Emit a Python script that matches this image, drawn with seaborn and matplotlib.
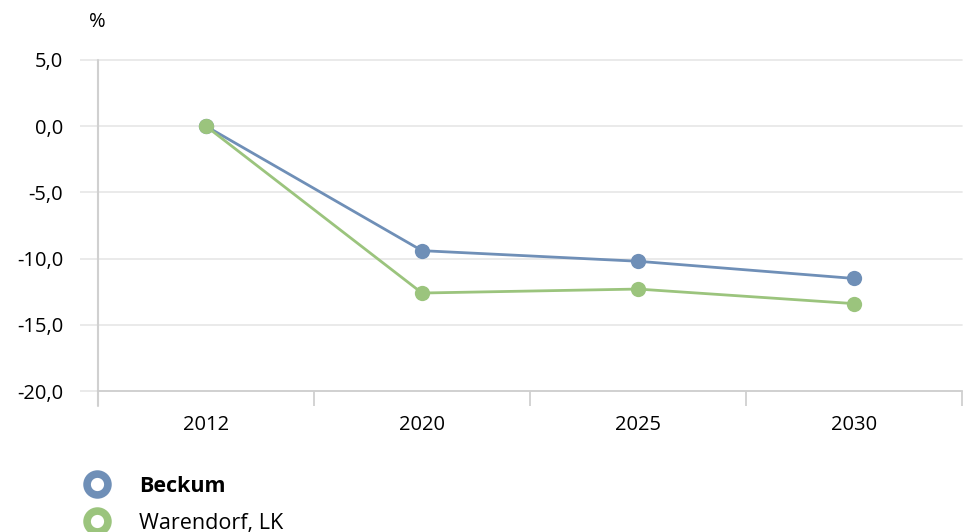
import matplotlib
matplotlib.use("Agg")
import matplotlib.pyplot as plt
from matplotlib.lines import Line2D
from matplotlib.ticker import FuncFormatter, FixedLocator
import seaborn as sb
import pandas as pd

years = ["2012", "2020", "2025", "2030"]
beckum = [0.0, -9.4, -10.2, -11.5]
warendorf = [0.0, -12.6, -12.3, -13.4]
names = ["Beckum", "Warendorf, LK"]
colors = ["#6f8fb7", "#9bc47d"]

df = pd.DataFrame({
    "pos": list(range(len(years))) * 2,
    "wert": beckum + warendorf,
    "region": [names[0]] * len(years) + [names[1]] * len(years),
})

sb.set_style("white")
plt.rcParams["font.family"] = ["Open Sans", "DejaVu Sans"]
plt.rcParams["text.color"] = "black"

fig = plt.figure(figsize=(9.66, 5.32), dpi=100)
ax = fig.add_axes([98 / 966, 1 - 391 / 532, 864 / 966, 331 / 532])

sb.lineplot(data=df, x="pos", y="wert", hue="region", palette=colors,
            marker="o", markersize=11, markeredgewidth=0, linewidth=2.0,
            legend=False, ax=ax, zorder=3)

ax.set_xlim(-0.5, len(years) - 0.5)
ax.set_ylim(-20, 5)
ax.set_yticks([5, 0, -5, -10, -15, -20])
ax.yaxis.set_major_formatter(FuncFormatter(lambda v, p: f"{v:.1f}".replace(".", ",")))
ax.set_xticks(range(len(years)))
ax.set_xticklabels(years)
ax.xaxis.set_minor_locator(FixedLocator([i - 0.5 for i in range(len(years) + 1)]))
ax.tick_params(axis="x", which="major", bottom=False, length=0, pad=17, labelsize=14.5,
               labelcolor="black")
ax.tick_params(axis="x", which="minor", bottom=True, length=11, width=1.2,
               color="#cccccc", direction="out")
ax.tick_params(axis="y", left=True, length=13, width=1.2, color="#e6e6e6", pad=12,
               labelsize=14.5, labelcolor="black", direction="out")
ax.grid(axis="y", color="#e6e6e6", linewidth=1.2)
for gl in ax.get_ygridlines():
    gl.set_clip_on(False)
ax.set_xlabel("")
ax.set_ylabel("")
for s in ["top", "right", "left"]:
    ax.spines[s].set_visible(False)
ax.spines["bottom"].set_color("#cccccc")
ax.spines["bottom"].set_linewidth(1.2)
ax.axvline(-0.5, ymin=0, ymax=1, color="#d0d0d0", linewidth=1.5, zorder=1, clip_on=False)
ax.plot([-0.5, -0.5], [-20, -21.1], color="#d0d0d0", linewidth=1.5, clip_on=False)

fig.text(89 / 966, 1 - 22 / 532, "%", fontsize=14.5, ha="left", va="center")

handles = [Line2D([], [], linestyle="none", marker="o", markersize=15,
                  markerfacecolor="white", markeredgecolor=c, markeredgewidth=5.5)
           for c in colors]
leg = fig.legend(handles, names, loc="upper left", bbox_to_anchor=(72 / 966, 1 - 467 / 532),
                 frameon=False, fontsize=15.5, handletextpad=1.2, labelspacing=0.75,
                 handlelength=1.5, borderaxespad=0)
leg.get_texts()[0].set_fontweight("bold")

plt.savefig("out.png", dpi=100)
plt.close()
